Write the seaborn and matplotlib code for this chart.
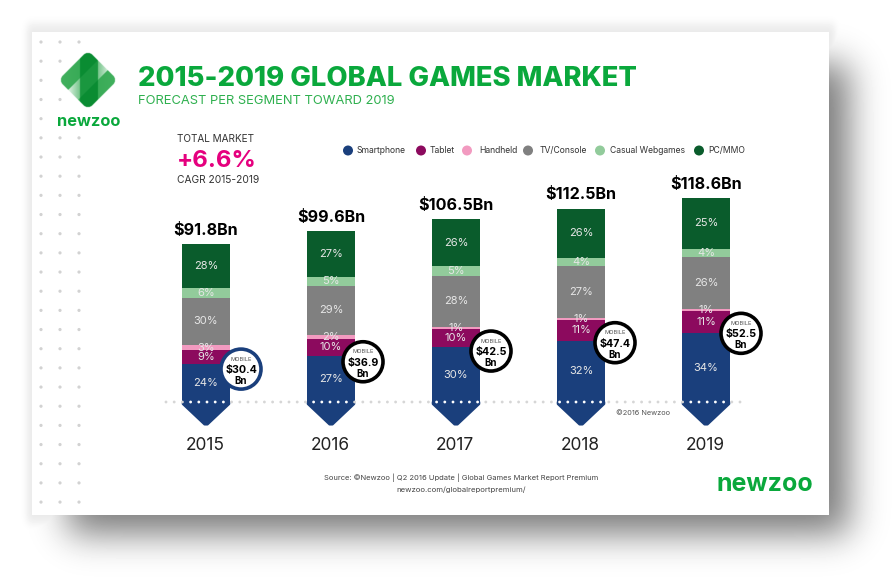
import matplotlib
matplotlib.use("Agg")
import matplotlib.pyplot as plt
import numpy as np
import pandas as pd
import seaborn as sns
from math import erf
from matplotlib.patches import Circle, Polygon, Rectangle

years = ["2015", "2016", "2017", "2018", "2019"]
totals = [91.8, 99.6, 106.5, 112.5, 118.6]
mobile = [30.4, 36.9, 42.5, 47.4, 52.5]
segments = ["Smartphone", "Tablet", "Handheld", "TV/Console", "Casual Webgames", "PC/MMO"]
smartphone = [24, 27, 30, 32, 34]
tablet = [9, 10, 10, 11, 11]
handheld = [3, 2, 1, 1, 1]
console = [30, 29, 28, 27, 26]
webgames = [6, 5, 5, 4, 4]
pc_mmo = [28, 27, 26, 26, 25]
colors = ["#1a3f7c", "#8c0a5e", "#f29ac0", "#808080", "#92cb9b", "#0a5c2c"]

# layout in pixels
W, H = 894, 580
BASE_Y = 402
X0, STEP, PX_PER_BN = 206, 125, 1.72
badge_dx = [35, 32, 35, 34, 35]
badge_dy = [5, 6, 4, 2, 0]
legend_dot_x = [348, 421, 467, 528, 600, 699]
legend_text_x = [357, 430, 479, 540, 610, 708]

GREEN = "#0aa83c"
TEXT = "#333333"

sns.set_theme(style="white")
plt.rcParams["font.family"] = ["Inter", "Lato", "DejaVu Sans"]

fig = plt.figure(figsize=(W / 100, H / 100), dpi=100)


def pixel_axes(z):
    a = fig.add_axes([0, 0, 1, 1], zorder=z)
    a.patch.set_alpha(0)
    a.set_xlim(0, W)
    a.set_ylim(H, 0)
    a.axis("off")
    return a


def box_profile(v, a, b, s):
    f = np.vectorize(erf)
    return 0.5 * (f((v - a) / s) - f((v - b) / s))


bg = pixel_axes(0)
xx = np.arange(W) + 0.5
yy = np.arange(H) + 0.5
shadow = np.outer(box_profile(yy, 64, 534, 25), box_profile(xx, 68, 849, 25))
halo = np.outer(box_profile(yy, 24, 523, 7), box_profile(xx, 27, 835, 5))
dark = np.maximum(0.52 * shadow, 0.085 * halo)
bg.imshow(1 - dark, cmap="gray", vmin=0, vmax=1, extent=(0, W, H, 0), aspect="auto", zorder=0)
bg.set_xlim(0, W)
bg.set_ylim(H, 0)
bg.add_patch(Rectangle((32, 32), 797, 483, fc="white", ec="none", zorder=1))

# dot grid down the left side of the card
rows = 42 + 19.17 * np.arange(25)
for r, y in enumerate(rows):
    cols = (41, 60, 79)
    if r in (1, 3):
        cols = (41, 60)
    if r in (2, 4):
        cols = (41,)
    for x in cols:
        bg.add_patch(Circle((x, y), 1.6, fc="#d2d2d2", ec="none", zorder=2))

# logo drawn on a small grid turned by 45 degrees
lx, ly = np.meshgrid(np.linspace(56, 120, 256), np.linspace(48, 112, 256))
a = ((lx - 88) + (ly - 80)) / np.sqrt(2)
b = ((lx - 88) - (ly - 80)) / np.sqrt(2)
inside = np.hypot(np.maximum(np.abs(a) - 15, 0), np.maximum(np.abs(b) - 15, 0)) - 6 <= 0
stripe = np.abs(lx - 89) < 9
band = np.abs(a) < 7
t = np.where(b > 0, np.clip(0.7 - (lx - 98) / 22, 0, 1), np.clip(0.7 - (80 - lx) / 22, 0, 1))
t = np.where(band & ~stripe, t, 1.0)
shade = np.where(stripe, 0.75 + 0.25 * (np.abs(a) >= 7), 0.25)
shade = np.where(~stripe & ~band, 0.35 - 0.2 * np.abs(lx - 88) / 30, shade)
light = np.array([0.30, 0.72, 0.40])
deep = np.array([0.04, 0.55, 0.20])
rgb = light + (deep - light) * shade[..., None]
rgba = np.dstack([1 - (1 - rgb) * t[..., None], inside.astype(float)])
bg.imshow(rgba, extent=(56, 120, 112, 48), aspect="auto", zorder=3, interpolation="bilinear")
bg.set_xlim(0, W)
bg.set_ylim(H, 0)

bg.text(89, 121, "newzoo", color=GREEN, fontsize=11.8, fontweight="bold", ha="center", va="center", zorder=5)
bg.text(138, 79, "2015-2019 GLOBAL GAMES MARKET", color=GREEN, fontsize=19.75, fontweight=800, va="center", zorder=5)
bg.text(138, 101, "FORECAST PER SEGMENT TOWARD 2019", color="#2fb04f", fontsize=9.3, va="center", zorder=5)
bg.text(177, 139, "TOTAL MARKET", color=TEXT, fontsize=7.2, va="center", zorder=5)
bg.text(177, 161, "+6.6%", color="#e5007e", fontsize=17.3, fontweight="bold", va="center", zorder=5)
bg.text(177, 180, "CAGR 2015-2019", color=TEXT, fontsize=7.35, va="center", zorder=5)

# stacked bars, one category = STEP px, one Bn = PX_PER_BN px
ax = fig.add_axes([0, 0, 1, 1], zorder=1)
ax.patch.set_alpha(0)

df = pd.DataFrame({"Year": years, "Smartphone": smartphone, "Tablet": tablet, "Handheld": handheld,
                   "TV/Console": console, "Casual Webgames": webgames, "PC/MMO": pc_mmo})
shares = df[segments].div(df[segments].sum(axis=1), axis=0).mul(totals, axis=0)
bottom = np.zeros(len(years))
for seg, col in zip(segments, colors):
    sns.barplot(x=df["Year"], y=shares[seg], bottom=bottom, color=col, saturation=1, width=48 / STEP, ax=ax,
                order=years, linewidth=0, zorder=3)
    for i, val in enumerate(df[seg]):
        ax.text(i, bottom[i] + shares[seg][i] / 2, f"{val}%", color="#e6e6e6", fontsize=8, ha="center",
                va="center", zorder=6)
    bottom += shares[seg].values
ax.set_xlim(-X0 / STEP, (W - X0) / STEP)
ax.set_ylim((BASE_Y - H) / PX_PER_BN, BASE_Y / PX_PER_BN)
ax.axis("off")

top = pixel_axes(2)
half = 24 / STEP
for i, yr in enumerate(years):
    ax.add_patch(Polygon([(i - half + 0.006, 0), (i + half - 0.006, 0), (i + half - 0.006, -2 / PX_PER_BN),
                          (i + 0.012, -22.5 / PX_PER_BN), (i - 0.012, -22.5 / PX_PER_BN),
                          (i - half + 0.006, -2 / PX_PER_BN)], fc=colors[0], ec=colors[0], lw=1.5,
                         joinstyle="round", zorder=3))
    ax.text(i, totals[i] + 13.5 / PX_PER_BN, f"${totals[i]}Bn", color="black", fontsize=11.6, fontweight="bold",
            ha="center", va="center", zorder=6)
    ax.text(i - 1 / STEP, -43 / PX_PER_BN, yr, color="#222222", fontsize=12.5, ha="center", va="center", zorder=6)

    # mobile badge sits on the top edge of the smartphone block
    px = X0 + STEP * i + badge_dx[i]
    py = BASE_Y - shares["Smartphone"][i] * PX_PER_BN + badge_dy[i]
    ring = colors[0] if i == 0 else "black"
    top.add_patch(Circle((px, py), 20, fc="white", ec=ring, lw=2.6, zorder=7))
    top.text(px, py - 10, "MOBILE", color="#555555", fontsize=4.1, ha="center", va="center", zorder=8)
    top.text(px, py + 1, f"${mobile[i]}", color="black", fontsize=7.7, fontweight="bold", ha="center",
             va="center", zorder=8)
    top.text(px, py + 12, "Bn", color="black", fontsize=7, fontweight="bold", ha="center", va="center", zorder=8)

# dotted base line, white where it crosses a bar
for x in np.arange(166, 746, 8.2):
    on_bar = min(abs(x - (X0 + STEP * k)) for k in range(5)) < 23
    top.add_patch(Circle((x, BASE_Y), 1.4, fc="white" if on_bar else "#d6d6d6", ec="none", zorder=6))

top.text(643, 413, "\u00a92016 Newzoo", color="#555555", fontsize=5.3, ha="center", va="center", zorder=6)

for dx, tx, seg, col in zip(legend_dot_x, legend_text_x, segments, colors):
    top.add_patch(Circle((dx, 150.5), 5, fc=col, ec="none", zorder=6))
    top.text(tx, 150.5, seg, color=TEXT, fontsize=6.2, va="center", zorder=6)

top.text(461, 478, "Source: \u00a9Newzoo | Q2 2016 Update | Global Games Market Report Premium", color="#444444",
         fontsize=5.45, ha="center", va="center", zorder=6)
top.text(461, 490, "newzoo.com/globalreportpremium/", color="#444444", fontsize=5.6, ha="center", va="center", zorder=6)
top.text(764.5, 484.5, "newzoo", color=GREEN, fontsize=18, fontweight="bold", ha="center", va="center", zorder=6)

fig.savefig("out.png", dpi=100)
